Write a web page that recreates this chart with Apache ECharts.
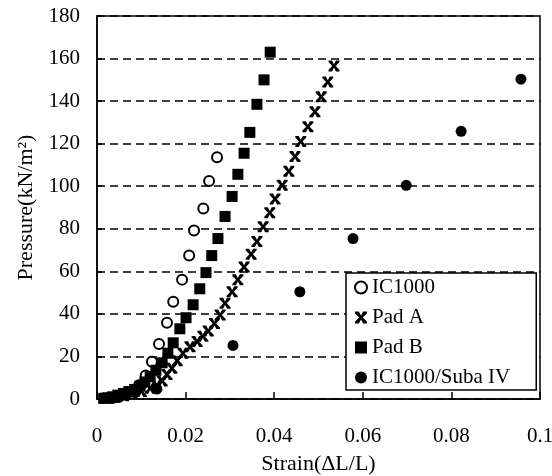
<!DOCTYPE html>
<html><head><meta charset="utf-8">
<script src="https://cdn.jsdelivr.net/npm/echarts@6/dist/echarts.min.js"></script>
<style>html,body{margin:0;padding:0;background:#fff}#c{width:552px;height:476px}</style>
</head><body><div id="c"></div>
<script>
const seriesNames = ['IC1000', 'Pad A', 'Pad B', 'IC1000/Suba IV'];
const xTitle = 'Strain(\u0394L/L)';
const yTitle = 'Pressure(kN/m\u00B2)';

const ic1000 = [[0.0035,0.5],[0.0050,1],[0.0065,2],[0.0080,3.5],[0.0095,6.5],[0.0110,11],[0.0124,17.5],[0.0140,25.8],[0.0158,35.8],[0.0172,45.7],[0.0192,56.1],[0.0208,67.4],[0.0219,79.2],[0.0240,89.5],[0.0253,102.5],[0.0271,113.6]];
const padA = [[0.002,0.3],[0.004,0.8],[0.006,1.5],[0.008,2.3],[0.010,3.5],[0.012,5],[0.0135,6.5],[0.0147,8.5],[0.0158,11.5],[0.0169,14.5],[0.0181,18],[0.0194,21.5],[0.0210,24.5],[0.0226,27],[0.0239,29.5],[0.0251,32],[0.0265,35.5],[0.0278,39.5],[0.0289,45],[0.0305,50.4],[0.0318,56],[0.0332,62],[0.0348,68],[0.0361,74],[0.0375,81],[0.0390,87.5],[0.0402,94],[0.0418,100.5],[0.0433,107],[0.0447,114],[0.0460,121],[0.0476,128],[0.0492,135],[0.0506,142],[0.0521,149],[0.0535,156.5]];
const padB = [[0.0015,0.3],[0.0025,0.6],[0.0035,1],[0.0047,1.8],[0.006,2.6],[0.0072,3.5],[0.0085,4.5],[0.0097,6],[0.0108,8],[0.012,10.5],[0.0133,13.5],[0.0147,17],[0.016,21.5],[0.0172,26.4],[0.0187,33],[0.0201,38.2],[0.0217,44.3],[0.0232,51.8],[0.0246,59.4],[0.0259,67.4],[0.0273,75.4],[0.0289,85.8],[0.0305,95.2],[0.0318,105.6],[0.0332,115.5],[0.0345,125.3],[0.0361,138.5],[0.0377,150],[0.0391,163]];
const suba = [[0.0135,4.7],[0.0307,25.2],[0.0458,50.4],[0.0578,75.4],[0.0698,100.4],[0.0822,125.8],[0.0957,150.3]];

const FONT = 'Liberation Serif';
const FS = 21;
const xSym = 'path://M0,0L3.2,0L5,3.4L6.8,0L10,0L10,1.4L6.6,5L10,8.6L10,10L6.8,10L5,6.6L3.2,10L0,10L0,8.6L3.4,5L0,1.4Z';

const chart = echarts.init(document.getElementById('c'));
chart.setOption({
  animation: false,
  backgroundColor: '#fff',
  grid: { left: 97, right: 12, top: 16, bottom: 77, containLabel: false, outerBoundsMode: 'none',
    show: true, borderColor: '#000', borderWidth: 1.5, backgroundColor: 'transparent' },
  xAxis: {
    type: 'value', min: 0, max: 0.1, interval: 0.02,
    name: xTitle, nameLocation: 'middle', nameGap: 54,
    nameTextStyle: { fontFamily: FONT, fontSize: 22, color: '#000' },
    axisLine: { show: true, lineStyle: { color: '#000', width: 1.5 } },
    axisTick: { show: true, inside: true, length: 7, lineStyle: { color: '#000', width: 1.5 } },
    axisLabel: { fontFamily: FONT, fontSize: FS, color: '#000', margin: 27 },
    splitLine: { show: false }
  },
  yAxis: {
    type: 'value', min: 0, max: 180, interval: 20,
    name: yTitle, nameLocation: 'middle', nameGap: 58, nameRotate: 90,
    nameTextStyle: { fontFamily: FONT, fontSize: 22, color: '#000' },
    axisLine: { show: true, lineStyle: { color: '#000', width: 1.5 } },
    axisTick: { show: true, inside: true, length: 5, lineStyle: { color: '#000', width: 1.5 } },
    axisLabel: { fontFamily: FONT, fontSize: FS, color: '#000', margin: 17 },
    splitLine: { show: true, lineStyle: { color: '#000', width: 1.5, type: [8, 5] } }
  },
  legend: {
    orient: 'vertical', left: 346, top: 273,
    backgroundColor: '#fff', borderColor: '#000', borderWidth: 1.5,
    padding: [4, 26, 2, 8], itemGap: 9, itemWidth: 12, itemHeight: 12,
    selectedMode: false,
    textStyle: { fontFamily: FONT, fontSize: FS, color: '#000' },
    data: seriesNames
  },
  series: [
    { name: seriesNames[0], type: 'scatter', data: ic1000, symbol: 'circle', symbolSize: 10,
      itemStyle: { color: '#fff', borderColor: '#000', borderWidth: 2, opacity: 1 } },
    { name: seriesNames[1], type: 'scatter', data: padA, symbol: xSym, symbolSize: 11,
      itemStyle: { color: '#000', opacity: 1 } },
    { name: seriesNames[2], type: 'scatter', data: padB, symbol: 'rect', symbolSize: 11,
      itemStyle: { color: '#000', opacity: 1 } },
    { name: seriesNames[3], type: 'scatter', data: suba, symbol: 'circle', symbolSize: 11,
      itemStyle: { color: '#000', opacity: 1 } }
  ]
});
</script></body></html>
